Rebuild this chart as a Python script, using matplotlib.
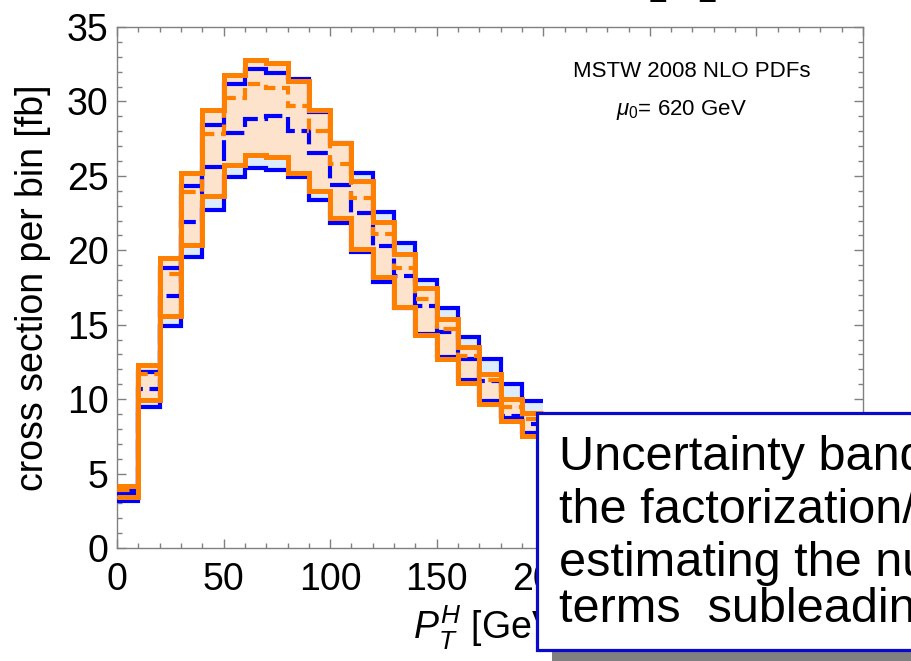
import numpy as np
import matplotlib
matplotlib.use("Agg")
import matplotlib.pyplot as plt
from matplotlib.patches import Rectangle

plt.rcParams['font.family'] = ['Liberation Sans', 'DejaVu Sans']
plt.rcParams['mathtext.fontset'] = 'custom'
plt.rcParams['mathtext.rm'] = 'Liberation Sans'
plt.rcParams['mathtext.it'] = 'Liberation Sans:italic'

# Higgs transverse-momentum bins (GeV), 10 GeV wide
bin_edges = np.arange(0, 210, 10)

# scale-variation band, first prediction (blue)
blue_hi = [3.9, 11.85, 18.8, 24.3, 28.4, 31.2, 32.2, 31.9, 31.5, 29.3,
           27.2, 25.2, 22.6, 20.5, 18.0, 16.1, 14.15, 12.7, 11.0, 9.85]
blue_lo = [3.15, 9.5, 14.9, 19.57, 22.7, 24.9, 25.5, 25.4, 24.9, 23.4,
           21.8, 19.9, 17.85, 16.1, 14.4, 12.85, 11.3, 9.9, 8.7, 7.7]
blue_mid = [3.6, 10.7, 16.9, 21.9, 25.6, 27.9, 28.8, 29.0, 28.0, 26.55,
            24.4, 22.5, 20.3, 18.3, 16.25, 14.5, 12.7, 11.2, 8.9, 8.3]

# scale-variation band, second prediction (orange)
orange_hi = [4.15, 12.3, 19.5, 25.2, 29.4, 31.8, 32.8, 32.6, 31.4, 29.4,
             27.2, 24.65, 21.9, 19.75, 17.45, 15.4, 13.5, 11.7, 10.0, 9.05]
orange_lo = [3.4, 9.94, 15.6, 20.35, 23.65, 25.7, 26.4, 26.3, 25.2, 24.0,
             22.2, 20.1, 18.2, 16.2, 14.3, 12.7, 11.1, 9.7, 8.5, 7.5]
orange_mid = [3.9, 11.7, 18.4, 23.9, 27.8, 30.2, 31.15, 30.9, 29.7, 28.0,
              25.8, 23.5, 21.1, 18.8, 16.7, 14.7, 12.9, 11.3, 9.5, 8.65]

x_ticks = [0, 50, 100, 150, 200, 250, 300, 350]
x_tick_labels = ['0', '50', '100', '150', '200', '', '', '']
y_ticks = [0, 5, 10, 15, 20, 25, 30, 35]

note_lines = ["Uncertainty band obtained by varying",
              "the factorization/renormalization scale,",
              "estimating the numerical size of",
              "terms  subleading in the expansion"]

BLUE = '#0000ff'
ORANGE = '#ff8000'
BLUE_FILL = '#dcecfc'
ORANGE_FILL = '#fee3cc'
GRAY = '#808080'

fig = plt.figure(figsize=(9.12, 6.61), dpi=100)
ax = fig.add_axes([117/912, 113/661, 746/912, 521/661])

# bands
ax.stairs(blue_hi, bin_edges, baseline=blue_lo, fill=True, color=BLUE_FILL, lw=0, zorder=1)
ax.stairs(orange_hi, bin_edges, baseline=orange_lo, fill=True, color=ORANGE_FILL, lw=0, zorder=2)

# band edges and central values
ax.stairs(blue_hi, bin_edges, baseline=None, color=BLUE, lw=3, zorder=3)
ax.stairs(blue_lo, bin_edges, baseline=None, color=BLUE, lw=3, zorder=3)
ax.stairs(blue_mid, bin_edges, baseline=None, color=BLUE, lw=3,
          linestyle=(0, (5, 1.6)), zorder=3)
ax.stairs(orange_mid, bin_edges, baseline=None, color=ORANGE, lw=3,
          linestyle=(0, (3, 1.6)), zorder=4)
ax.stairs(orange_hi, bin_edges, baseline=None, color=ORANGE, lw=3.6, zorder=5)
ax.stairs(orange_lo, bin_edges, baseline=None, color=ORANGE, lw=3.6, zorder=5)

ax.set_xlim(0, 350)
ax.set_ylim(0, 35)
ax.set_xticks(x_ticks)
ax.set_xticklabels(x_tick_labels)
ax.set_yticks(y_ticks)
ax.set_xticks(np.arange(0, 351, 10), minor=True)
ax.set_yticks(np.arange(0, 36, 1), minor=True)
ax.tick_params(which='both', direction='in', top=True, right=True,
               color=GRAY, width=1, labelsize=27)
ax.tick_params(which='major', length=6.5)
ax.tick_params(which='minor', length=3.6)
ax.tick_params(axis='x', pad=10)
ax.tick_params(axis='y', pad=6)
for s in ax.spines.values():
    s.set_color(GRAY)
    s.set_linewidth(1)

ax.set_ylabel('cross section per bin [fb]', fontsize=27)
ax.yaxis.set_label_coords(-0.089, 0.5)
ax.set_xlabel(r'$P_T^H$ [GeV]', fontsize=27, labelpad=4)

ax.text(269.8, 32.0, 'MSTW 2008 NLO PDFs', fontsize=16, ha='center', va='center')
ax.text(264.6, 29.4, r'$\mu_0$= 620 GeV', fontsize=16, ha='center', va='center')

# slide heading running off the top
fig.text(0.709, 1.0148, '[1]', fontsize=43, fontweight='bold',
         ha='left', va='baseline')

# callout box with drop shadow
shadow = Rectangle((552/912, -0.05), 0.6, (661 - 423)/661 + 0.05,
                   transform=fig.transFigure, facecolor=GRAY, edgecolor='none',
                   zorder=10)
box = Rectangle((537/912, 1 - 650/661), 0.6, (650 - 413)/661,
                transform=fig.transFigure, facecolor='white', edgecolor='#0a0acc',
                linewidth=2.3, zorder=11)
fig.add_artist(shadow)
fig.add_artist(box)
for line, base in zip(note_lines, [470, 523, 576, 622]):
    fig.text(559/912, 1 - base/661, line, fontsize=35, ha='left',
             va='baseline', zorder=12)

fig.savefig('out.png', dpi=100)
